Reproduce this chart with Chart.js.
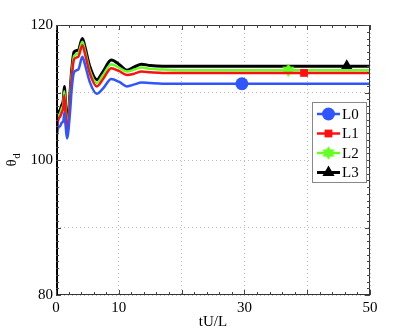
<!DOCTYPE html>
<html><head><meta charset="utf-8">
<script src="https://cdn.jsdelivr.net/npm/chart.js@4.4.1/dist/chart.umd.min.js"></script>
<style>html,body{margin:0;padding:0;background:#fff}#wrap{width:409px;height:332px}</style>
</head><body><div id="wrap"><canvas id="c" width="409" height="332"></canvas></div>
<script>
// ---- data ----
const tValues = [0, 0.1, 0.64, 0.9, 1.17, 1.33, 1.54, 1.75, 2.23, 2.5, 2.87, 3.55, 4.2, 4.6, 5.4, 6.5, 7.5, 8.8, 10.0, 11.3, 12.5, 13.6, 15, 17, 20, 25, 29.6, 35, 37, 39.5, 45, 46.3, 50];
const seriesL0 = [89.0, 103.5, 105.0, 105.5, 105.8, 107.0, 105.0, 103.2, 107.0, 110.5, 113.0, 113.4, 115.3, 114.2, 111.5, 109.8, 110.6, 112.0, 111.6, 110.9, 111.2, 111.5, 111.4, 111.3, 111.3, 111.3, 111.3, 111.3, 111.3, 111.3, 111.3, 111.3, 111.3];
const seriesL1 = [89.2, 103.6, 106.4, 107.0, 107.8, 109.6, 106.7, 103.7, 108.8, 112.2, 114.9, 115.3, 117.0, 115.8, 112.8, 110.9, 112.0, 113.6, 113.2, 112.6, 112.8, 113.1, 113.0, 112.9, 112.9, 112.9, 112.9, 112.9, 112.9, 112.9, 112.9, 112.9, 112.9];
const seriesL2 = [89.4, 104.0, 106.9, 107.6, 108.4, 110.2, 107.3, 104.2, 109.3, 112.7, 115.4, 115.8, 117.5, 116.2, 113.2, 111.4, 112.6, 114.2, 113.7, 113.1, 113.4, 113.7, 113.5, 113.4, 113.3, 113.3, 113.3, 113.3, 113.3, 113.3, 113.3, 113.3, 113.3];
const seriesL3 = [89.5, 104.4, 107.4, 108.1, 108.9, 110.9, 107.9, 104.7, 109.9, 113.3, 116.0, 116.3, 118.0, 116.8, 113.8, 111.9, 113.1, 114.8, 114.2, 113.3, 113.8, 114.2, 114.0, 113.9, 113.9, 113.9, 113.9, 113.9, 113.9, 113.9, 113.9, 113.9, 113.9];
const seriesNames = ['L0', 'L1', 'L2', 'L3'];
const markerT = [29.6, 39.5, 37, 46.3];
const xTickLabels = [0, 10, 30, 50];
const yTickLabels = [80, 100, 120];

const colors = ['#2f55ff', '#ff1010', '#66ff22', '#000000'];
const widths = [2.5, 2.5, 2.5, 3];
const FONT = "'Liberation Serif', 'DejaVu Serif', serif";

// hexagram marker image for L2
function hexagram(r, color) {
  const c = document.createElement('canvas');
  c.width = c.height = 2 * r + 2;
  const g = c.getContext('2d');
  g.fillStyle = color;
  const cx = r + 1, cy = r + 1;
  for (let k = 0; k < 2; k++) {
    g.beginPath();
    for (let i = 0; i < 3; i++) {
      const a = -Math.PI / 2 + k * Math.PI + i * 2 * Math.PI / 3;
      const px = cx + r * Math.cos(a), py = cy + r * Math.sin(a);
      i ? g.lineTo(px, py) : g.moveTo(px, py);
    }
    g.closePath(); g.fill();
  }
  return c;
}
const starImg = hexagram(7, colors[2]);
const pointStyles = ['circle', 'rect', starImg, 'triangle'];
const pointRadii = [6.5, 5.5, 7, 7];

const allSeries = [seriesL0, seriesL1, seriesL2, seriesL3];
const datasets = allSeries.map((s, i) => ({
  label: seriesNames[i],
  data: tValues.map((t, j) => ({ x: t, y: s[j] })),
  borderColor: colors[i],
  backgroundColor: colors[i],
  borderWidth: widths[i],
  pointStyle: pointStyles[i],
  pointRadius: ctx => (ctx.raw && ctx.raw.x === markerT[i]) ? pointRadii[i] : 0,
  pointHoverRadius: 0,
  pointBorderWidth: 0,
  tension: 0.35,
  cubicInterpolationMode: 'monotone'
}));

const frame = {
  id: 'frame',
  afterDatasetsDraw(chart) {
    const { ctx, chartArea: a, scales: { x, y } } = chart;
    ctx.save();
    // box
    ctx.strokeStyle = '#333'; ctx.lineWidth = 1;
    ctx.strokeRect(a.left + 0.5, a.top + 0.5, a.right - a.left - 1, a.bottom - a.top - 1);
    ctx.strokeStyle = '#000'; ctx.lineWidth = 2;
    ctx.beginPath(); ctx.moveTo(a.left + 1, a.top); ctx.lineTo(a.left + 1, a.bottom); ctx.stroke();
    // ticks
    ctx.strokeStyle = '#444'; ctx.lineWidth = 1;
    ctx.beginPath();
    for (let v = 0; v <= 50; v += 2) {
      const px = Math.round(x.getPixelForValue(v)) + 0.5;
      const L = v % 10 === 0 ? 5 : 3;
      ctx.moveTo(px, a.bottom); ctx.lineTo(px, a.bottom - L);
      ctx.moveTo(px, a.top); ctx.lineTo(px, a.top + L);
    }
    for (let v = 80; v <= 120; v += 1) {
      const py = Math.round(y.getPixelForValue(v)) + 0.5;
      const L = v % 10 === 0 ? 5 : 3;
      ctx.moveTo(a.left, py); ctx.lineTo(a.left + L, py);
      ctx.moveTo(a.right, py); ctx.lineTo(a.right - L, py);
    }
    ctx.stroke();
    // legend
    const bx = a.right - 58, by = 102, bw = 54, bh = 80;
    ctx.fillStyle = '#fff'; ctx.fillRect(bx, by, bw, bh);
    ctx.strokeStyle = '#888'; ctx.lineWidth = 1;
    ctx.strokeRect(bx + 0.5, by + 0.5, bw, bh);
    ctx.font = '15px ' + FONT; ctx.textBaseline = 'middle'; ctx.textAlign = 'left';
    seriesNames.forEach((n, i) => {
      const yy = by + 12 + i * 19.5;
      ctx.strokeStyle = colors[i]; ctx.lineWidth = widths[i];
      ctx.beginPath(); ctx.moveTo(bx + 5, yy); ctx.lineTo(bx + 28, yy); ctx.stroke();
      ctx.fillStyle = colors[i];
      const cx = bx + 16.5;
      if (i === 2) ctx.drawImage(starImg, cx - starImg.width / 2, yy - starImg.height / 2);
      else Chart.helpers.drawPoint(ctx, { pointStyle: pointStyles[i], radius: pointRadii[i], borderWidth: 0 }, cx, yy);
      ctx.fillStyle = '#000';
      ctx.fillText(n, bx + 30, yy + 1);
    });
    // y title θ_d
    ctx.translate(12, 161); ctx.rotate(-Math.PI / 2);
    ctx.fillStyle = '#000'; ctx.textAlign = 'center'; ctx.textBaseline = 'middle';
    ctx.font = '15px ' + FONT; ctx.fillText('θ', -2, 0);
    ctx.font = '11px ' + FONT; ctx.fillText('d', 5, 5);
    ctx.restore();
  }
};

new Chart(document.getElementById('c'), {
  type: 'line',
  data: { datasets },
  options: {
    responsive: false, animation: false,
    layout: { padding: { top: 25, right: 39, left: 0, bottom: 0 } },
    plugins: { legend: { display: false }, tooltip: { enabled: false } },
    scales: {
      x: {
        type: 'linear', min: 0, max: 50,
        afterFit: s => { s.height = 37; },
        ticks: { stepSize: 10, padding: 4, color: '#000', font: { family: FONT, size: 15 },
                 callback: v => xTickLabels.includes(v) ? String(v) : '' },
        grid: { color: '#bbb', drawTicks: false, tickLength: 0 },
        border: { display: false, dash: [1, 3] },
        title: { display: true, text: 'tU/L', color: '#000', font: { family: FONT, size: 15 }, padding: { top: 0, bottom: 1 } }
      },
      y: {
        min: 80, max: 120,
        afterFit: s => { s.width = 56; },
        ticks: { stepSize: 10, padding: 3, color: '#000', font: { family: FONT, size: 15 },
                 callback: v => yTickLabels.includes(v) ? String(v) : '' },
        grid: { color: '#bbb', drawTicks: false, tickLength: 0 },
        border: { display: false, dash: [1, 3] }
      }
    }
  },
  plugins: [frame]
});
</script></body></html>
